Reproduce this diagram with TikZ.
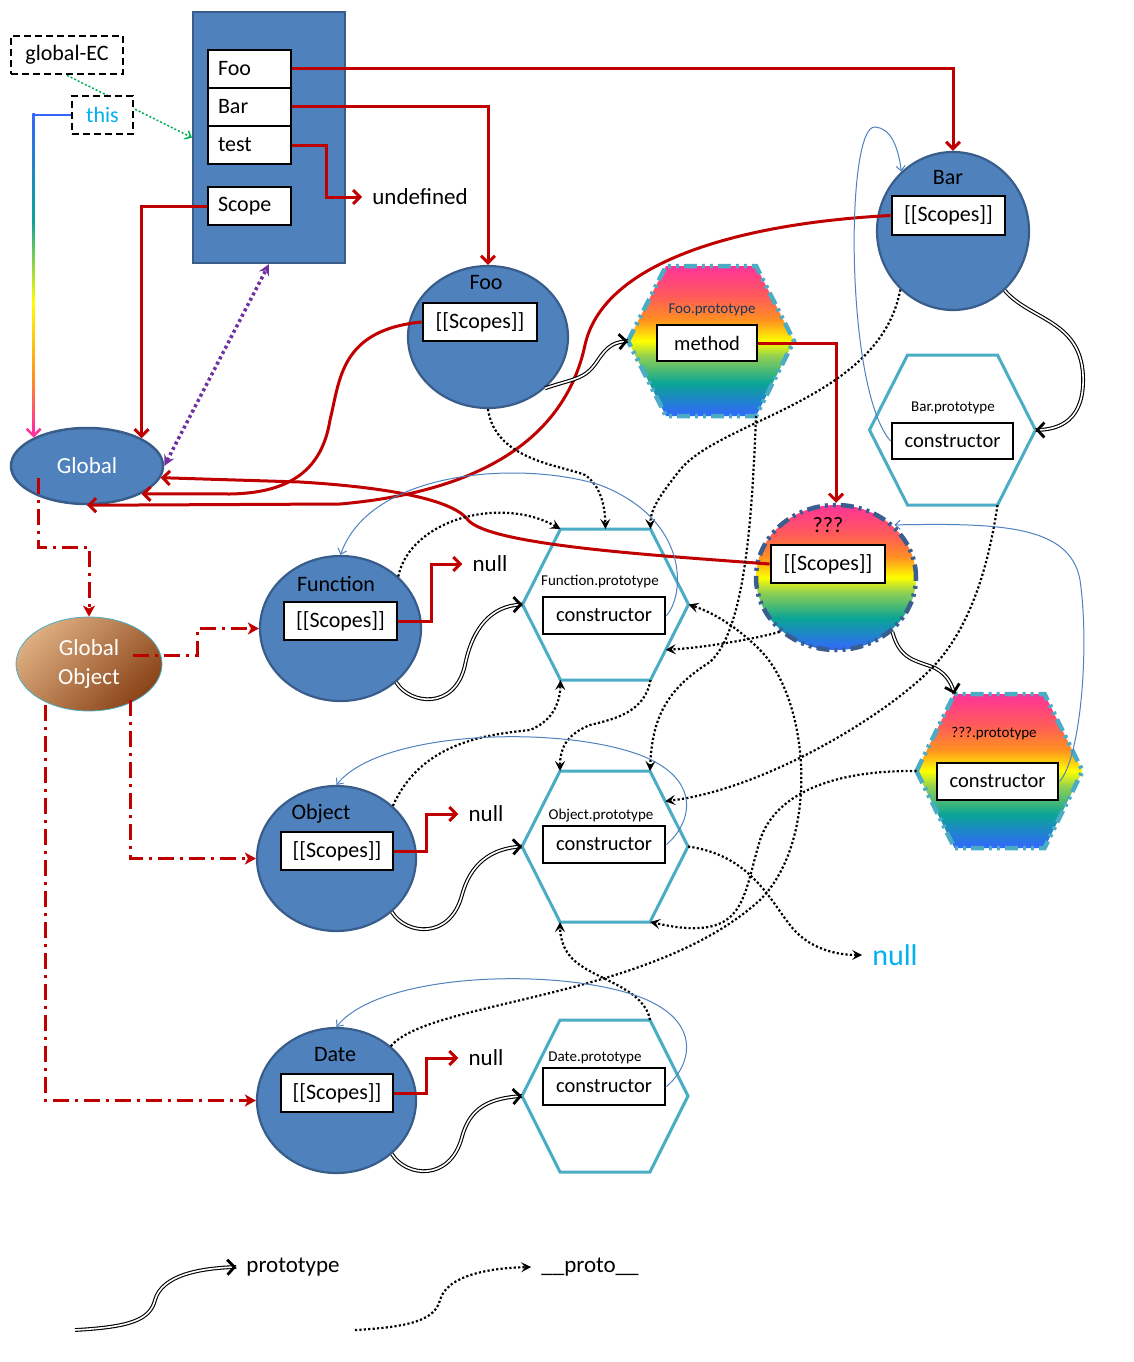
\documentclass[tikz,border=0pt]{standalone}
\usepackage{fontspec}
\setmainfont{Carlito}
\usetikzlibrary{shapes.geometric,arrows.meta,calc}

\definecolor{bfill}{HTML}{4F81BD}
\definecolor{bdraw}{HTML}{385D8A}
\definecolor{dred}{HTML}{C00000}
\definecolor{hcyan}{HTML}{4BACC6}
\definecolor{tcyan}{HTML}{00B0F0}
\definecolor{ppl}{HTML}{7030A0}
\definecolor{grn}{HTML}{00B050}
\definecolor{rbPink}{HTML}{FF3399}
\definecolor{rbRed}{HTML}{FF5A5A}
\definecolor{rbOrange}{HTML}{FF9020}
\definecolor{rbYellow}{HTML}{FFFF00}
\definecolor{rbGreen}{HTML}{92D050}
\definecolor{rbTeal}{HTML}{0AA595}
\definecolor{rbBlue}{HTML}{3366FF}
\definecolor{goTan}{HTML}{DDAE80}
\definecolor{goBrown}{HTML}{8A4418}
\definecolor{lblue}{HTML}{4F81BD}
\definecolor{lbl}{HTML}{17375E}
\definecolor{qdraw}{HTML}{3A5F8F}

\pgfdeclareverticalshading{rainbow}{100bp}{color(0bp)=(rbBlue); color(25bp)=(rbBlue); color(36bp)=(rbTeal); color(45bp)=(rbGreen); color(50bp)=(rbYellow); color(57bp)=(rbOrange); color(65bp)=(rbRed); color(75bp)=(rbPink); color(100bp)=(rbPink)}
\pgfdeclareverticalshading{thisgrad}{100bp}{color(0bp)=(rbPink); color(25bp)=(rbPink); color(33bp)=(rbOrange); color(45bp)=(rbYellow); color(58bp)=(rbTeal); color(75bp)=(rbBlue); color(100bp)=(rbBlue)}

\newcommand\myfs[1]{\fontsize{#1pt}{#1pt}\selectfont}

\newcommand\hexshape[5]{%
 \coordinate (#1) at (#2,#3);
 \coordinate (#1-L) at (#2-83,#3);
 \coordinate (#1-TL) at (#2-45,#3-#4);
 \coordinate (#1-TR) at (#2+45,#3-#4);
 \coordinate (#1-R) at (#2+83,#3);
 \coordinate (#1-BR) at (#2+45,#3+#4);
 \coordinate (#1-BL) at (#2-45,#3+#4);
 \coordinate (#1-T) at (#2,#3-#4);
 \coordinate (#1-rb) at ($(#1-R)!0.6!(#1-BR)$);
 \coordinate (#1-rt) at ($(#1-R)!0.6!(#1-TR)$);
 \path[#5] (#1-L) -- (#1-TL) -- (#1-TR) -- (#1-R) -- (#1-BR) -- (#1-BL) -- cycle;
}

\begin{document}
\begin{tikzpicture}[x=1pt,y=-1pt,
  bigrect/.style={draw=bdraw, fill=bfill, line width=2.2pt, minimum width=152pt, minimum height=251pt, inner sep=0pt},
  field/.style={draw=black, fill=white, line width=2.8pt, minimum width=83pt, minimum height=38pt, inner sep=0pt, text width=63pt, align=left, font=\myfs{22}},
  dbox/.style={draw=black, fill=white, line width=2.8pt, dash pattern=on 7pt off 4pt, minimum height=38pt, inner sep=0pt, font=\myfs{22}},
  fnc/.style={ellipse, draw=bdraw, fill=bfill, line width=2.2pt, inner sep=0pt},
  sbox/.style={draw=black, fill=white, line width=2.8pt, minimum width=114pt, minimum height=38pt, inner sep=0pt, font=\myfs{22}},
  cbox/.style={draw=black, fill=white, line width=2.8pt, minimum width=122pt, minimum height=37pt, inner sep=0pt, font=\myfs{20.5}},
  lab/.style={inner sep=0pt, font=\myfs{22}},
  slab/.style={inner sep=0pt, font=\myfs{15}},
  hexplain/.style={draw=hcyan, line width=3pt, fill=white, line join=miter},
  rbdash/.style={dash pattern=on 13pt off 5pt on 3pt off 5pt on 3pt off 5pt},
  hexrb/.style={shade, shading=rainbow, draw=hcyan, line width=4.5pt, rbdash},
  redarrow/.style={dred, line width=3pt, -{Straight Barb[length=7pt,width=14pt]}},
  ddred/.style={dred, line width=3pt, dash pattern=on 16pt off 6pt on 3pt off 6pt, -{Stealth[length=11pt,width=12pt,inset=3pt]}},
  dotarrow/.style={black, line width=2.2pt, dash pattern=on 2.2pt off 2.2pt, -{Stealth[length=10pt,width=10pt,inset=4pt]}},
  protoarrow/.style={preaction={draw=black, line width=3.8pt}, draw=white, line width=1.6pt,
     postaction={draw=black, line width=2.8pt, dash pattern=on 0pt off 9000pt, -{Straight Barb[length=7pt,width=15pt]}}},
  consline/.style={lblue, line width=1pt, -{Straight Barb[length=5pt,width=9pt]}},
  nulllab/.style={inner xsep=10pt, inner ysep=0pt, font=\myfs{23}}
]
\useasboundingbox (0,0) rectangle (1134,1362);

% ---------- scope object ----------
\node[bigrect] (scopeobj) at (269,137.5) {};
\node[field] (fFoo) at (249.5,69) {Foo};
\node[field] (fBar) at (249.5,107) {Bar};
\node[field] (fTest) at (249.5,145) {test};
\node[field] (fScope) at (249.5,206) {Scope};

\node[dbox, minimum width=112pt] (gEC) at (67,55) {global-EC};
\draw[grn, line width=1.5pt, dash pattern=on 2pt off 2pt, -{Straight Barb[length=5pt,width=9pt]}] (gEC.south) -- (scopeobj.west);
\node[dbox, minimum width=61pt, text=tcyan] (thisN) at (102.5,115) {this};

% ---------- Global ----------
\node[fnc, minimum width=152pt, minimum height=76pt, line width=2.5pt, text=white, font=\myfs{23}] (Global) at (87,466) {Global};
\node[ellipse, draw=hcyan, line width=0.8pt, top color=goTan, bottom color=goBrown, shading angle=45, minimum width=146pt, minimum height=94pt, inner sep=0pt, text=white, align=center, font=\fontsize{23pt}{29pt}\selectfont] (GO) at (89,664) {Global\\Object};

% ---------- function circles ----------
\node[fnc, minimum width=160pt, minimum height=142pt] (FooC) at (488,337) {};
\node[lab] (FooL) at (486,283) {Foo};
\node[sbox] (FooS) at (480,322) {[[Scopes]]};

\node[fnc, minimum width=152pt, minimum height=158pt] (BarC) at (953,231) {};
\node[lab] (BarL) at (948,178) {Bar};
\node[sbox, minimum width=113pt, minimum height=39pt] (BarS) at (948.5,215.5) {[[Scopes]]};

\node[fnc, minimum width=161pt, minimum height=145pt] (FnC) at (340.5,628.5) {};
\node[lab] (FnL) at (336,584) {Function};
\node[sbox, minimum width=113pt] (FnS) at (340.5,621) {[[Scopes]]};

\node[fnc, minimum width=159pt, minimum height=145pt] (ObC) at (336.5,858.5) {};
\node[lab] (ObL) at (321,814) {Object};
\node[sbox, minimum width=112pt] (ObS) at (337,851) {[[Scopes]]};

\node[fnc, minimum width=159pt, minimum height=145pt] (DtC) at (336.5,1100.5) {};
\node[lab] (DtL) at (335,1055) {Date};
\node[sbox, minimum width=112pt] (DtS) at (337,1093) {[[Scopes]]};

\node[ellipse, shade, shading=rainbow, draw=qdraw, line width=4.5pt, rbdash, minimum width=160pt, minimum height=145pt, inner sep=0pt] (Qc) at (836,577.5) {};
\node[lab] (QL) at (828,525) {???};
\node[sbox] (QS) at (828,564) {[[Scopes]]};

% ---------- prototype hexagons ----------
\hexshape{FP}{711}{341}{75}{hexrb}
\node[slab, text=lbl] (FPL) at (712,310) {Foo.prototype};
\node[cbox, minimum width=100pt, minimum height=36pt] (FPm) at (707,343) {method};

\hexshape{BP}{952.5}{430}{75}{hexplain}
\node[slab] (BPL) at (953,408) {Bar.prototype};
\node[cbox, minimum width=121pt, minimum height=36pt] (BPc) at (952.5,441) {constructor};

\hexshape{FnP}{605.5}{604.5}{75.5}{hexplain}
\node[slab] (FnPL) at (600,582) {Function.prototype};
\node[cbox] (FnPc) at (604,615.5) {constructor};

\hexshape{ObP}{605}{846.5}{75.5}{hexplain}
\node[slab] (ObPL) at (601,816) {Object.prototype};
\node[cbox] (ObPc) at (604,844.5) {constructor};

\hexshape{DtP}{605}{1096}{76}{hexplain}
\node[slab] (DtPL) at (595,1058) {Date.prototype};
\node[cbox] (DtPc) at (604,1086.5) {constructor};

\hexshape{QP}{999.5}{771}{77}{hexrb}
\node[slab] (QPL) at (994,734) {???.prototype};
\node[cbox, minimum width=121pt] (QPc) at (997.5,781.5) {constructor};

% ---------- text labels ----------
\node[nulllab, font=\myfs{23}] (undefN) at (420,197) {undefined};
\node[nulllab] (null1) at (490,564) {null};
\node[nulllab] (null2) at (486,814) {null};
\node[nulllab] (null3) at (486,1058) {null};
\node[nulllab, text=tcyan, font=\myfs{30}] (nullc) at (895,955) {null};

% ---------- this -> Global (gradient line) ----------
\coordinate (thisK) at (thisN.west -| Global.152);
\draw[line width=2.5pt, rbBlue] (thisN.west) -- ([xshift=-1.25pt]thisK);
\shade[shading=thisgrad] ([xshift=-1.25pt,yshift=1.25pt]thisK) rectangle ([xshift=1.25pt,yshift=10pt]Global.152);
\draw[line width=2.5pt, rbPink, -{Straight Barb[length=7pt,width=14pt]}] ([yshift=12pt]Global.152) -- (Global.152);

% ---------- red scope links ----------
\draw[redarrow] (fFoo.east) -| (BarC.north);
\draw[redarrow] (fBar.east) -| (FooC.north);
\draw[redarrow] (fTest.east) -- ++(34,0) |- (undefN.west);
\draw[redarrow] (fScope.west) -| (Global.27);
\draw[redarrow] (FPm.east) -| (Qc.north);
\draw[redarrow] (FnS.east) -- ++(33,0) |- (null1.west);
\draw[redarrow] (ObS.east) -- ++(32,0) |- (null2.west);
\draw[redarrow] (DtS.east) -- ++(32,0) |- (null3.west);

\draw[redarrow] (FooS.west) .. controls (340,330) and (340,380) .. (330,420) .. controls (322,470) and (290,493) .. (230,494) -- (Global.-27);
\draw[redarrow] (BarS.west) .. controls (760,222) and (605,255) .. (585,345) .. controls (568,425) and (500,490) .. (340,504) -- (Global.south);
\draw[redarrow] (QS.west) .. controls (650,555) and (490,545) .. (468,520) .. controls (455,502) and (400,488) .. (300,482) -- (Global.-9);

% purple
\draw[ppl, line width=3.5pt, dash pattern=on 3pt off 3pt, {Stealth[length=11pt,width=11pt,inset=4pt]}-{Stealth[length=11pt,width=11pt,inset=4pt]}] (Global.east) -- (scopeobj.south);

% ---------- dash-dot red ----------
\draw[ddred] ([xshift=-49pt,yshift=-12pt]Global.center) -- ++(0,69) -| (GO.north);
\draw[ddred] ([xshift=44pt,yshift=9pt]GO.center) -- ++(64,0) |- (FnC.west);
\draw[ddred] ([xshift=41pt,yshift=-36pt]GO.center) |- (ObC.west);
\draw[ddred] ([xshift=-44pt,yshift=-41pt]GO.center) |- (DtC.west);

% ---------- prototype (double) ----------
\draw[protoarrow] (FooC.-42) .. controls (575,378) and (585,380) .. (598,360) .. controls (608,345) and (615,342) .. (FP-L);
\draw[protoarrow] (BarC.-49) .. controls (1030,320) and (1080,320) .. (1083,375) .. controls (1085,420) and (1060,430) .. (BP-R);
\draw[protoarrow] (FnC.-44) .. controls (410,705) and (455,710) .. (465,665) .. controls (472,630) and (490,605) .. (FnP-L);
\draw[protoarrow] (ObC.-44) .. controls (406,935) and (450,940) .. (462,895) .. controls (470,865) and (490,848) .. (ObP-L);
\draw[protoarrow] (DtC.-44) .. controls (406,1177) and (450,1182) .. (462,1137) .. controls (470,1107) and (490,1098) .. (DtP-L);
\draw[protoarrow] (Qc.-44) .. controls (900,660) and (915,660) .. (935,668) .. controls (948,675) and (952,685) .. (QP-TL);

% ---------- __proto__ (dotted) ----------
\draw[dotarrow] (FooC.south) .. controls (495,460) and (560,465) .. (585,475) .. controls (600,485) and (605,505) .. (FnP-T);
\draw[dotarrow] (BarC.-132) .. controls (880,400) and (720,420) .. (680,470) .. controls (660,495) and (650,510) .. (FnP-TR);
\draw[dotarrow] (FnC.42) .. controls (410,520) and (500,495) .. (FnP-TL);
\draw[dotarrow] (Qc.-136) .. controls (750,640) and (700,648) .. (FnP-rb);
\draw[dotarrow] (ObC.43) .. controls (420,745) and (480,735) .. (530,730) .. controls (555,720) and (560,700) .. (FnP-BL);
\draw[dotarrow] (DtC.45) .. controls (430,1000) and (650,1000) .. (760,900) .. controls (820,840) and (810,700) .. (760,650) .. controls (730,620) and (705,610) .. (FnP-R);
\draw[dotarrow] (FP-BR) .. controls (752,520) and (745,630) .. (710,662) .. controls (665,690) and (652,720) .. (ObP-TR);
\draw[dotarrow] (FnP-BR) .. controls (645,710) and (620,718) .. (590,725) .. controls (565,735) and (560,750) .. (ObP-TL);
\draw[dotarrow] (BP-BR) .. controls (985,590) and (960,640) .. (930,670) .. controls (880,720) and (760,790) .. (ObP-rt);
\draw[dotarrow] (QP-L) .. controls (830,770) and (775,795) .. (760,840) .. controls (745,890) and (745,925) .. (700,928) .. controls (680,929) and (665,925) .. (ObP-BR);
\draw[dotarrow] (ObP-R) .. controls (750,855) and (770,900) .. (790,925) .. controls (805,945) and (830,955) .. (nullc.west);
\draw[dotarrow] (DtP-TR) .. controls (645,990) and (600,980) .. (580,965) .. controls (565,955) and (560,940) .. (ObP-BL);

% ---------- constructor back-links (thin blue) ----------
\draw[consline] (BPc.west) .. controls (845,390) and (845,125) .. (875,127) .. controls (890,128) and (898,145) .. (BarC.131);
\draw[consline] (FnPc.east) .. controls (685,595) and (690,520) .. (600,485) .. controls (520,460) and (370,470) .. (FnC.north);
\draw[consline] (ObPc.east) .. controls (690,825) and (705,780) .. (640,755) .. controls (560,725) and (380,730) .. (ObC.north);
\draw[consline] (DtPc.east) .. controls (690,1067) and (705,1022) .. (640,997) .. controls (560,967) and (380,972) .. (DtC.north);
\draw[consline] (QPc.east) .. controls (1080,760) and (1090,650) .. (1080,580) .. controls (1070,525) and (1000,523) .. (Qc.42);

% ---------- legend ----------
\node[nulllab] (lgP) at (293,1267) {prototype};
\node[nulllab] (lgQ) at (590,1267) {\_\_proto\_\_};
\coordinate (lgA) at (75,1330);
\coordinate (lgB) at (355,1330);
\draw[protoarrow] (lgA) .. controls (130,1327) and (150,1320) .. (155,1300) .. controls (162,1275) and (200,1268) .. (lgP.west);
\draw[dotarrow] (lgB) .. controls (410,1327) and (435,1320) .. (440,1300) .. controls (447,1275) and (490,1268) .. (lgQ.west);
\end{tikzpicture}
\end{document}
